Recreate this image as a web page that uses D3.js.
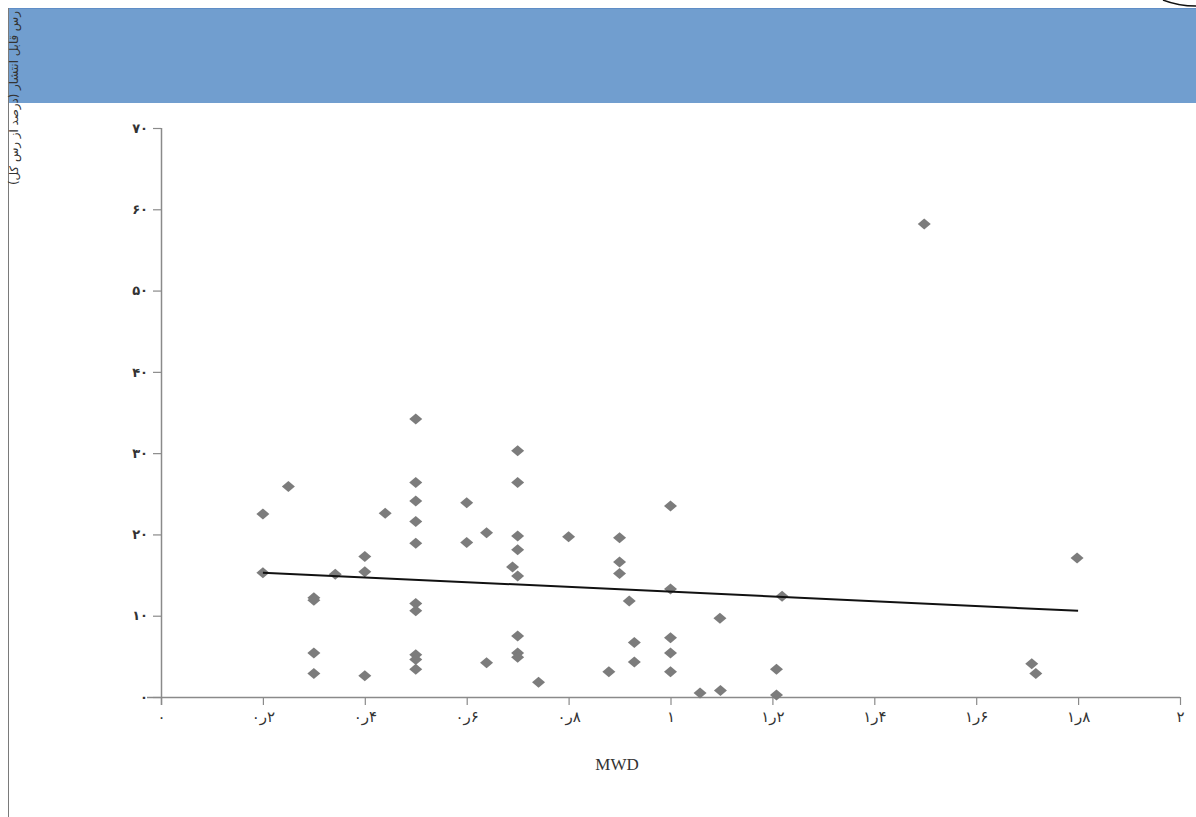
<!DOCTYPE html>
<html>
<head>
<meta charset="utf-8">
<script src="https://cdn.jsdelivr.net/npm/d3@7/dist/d3.min.js"></script>
<style>
  html, body { margin: 0; padding: 0; background: #fff; }
  svg { display: block; }
</style>
</head>
<body>
<script>
// MWD (mean weight diameter) per sample
const mwd = [
  0.2, 0.2, 0.25, 0.3, 0.3, 0.3, 0.3, 0.342, 0.4, 0.4, 0.4, 0.44,
  0.5, 0.5, 0.5, 0.5, 0.5, 0.5, 0.5, 0.5, 0.5, 0.5,
  0.6, 0.6, 0.639, 0.639, 0.69,
  0.7, 0.7, 0.7, 0.7, 0.7, 0.7, 0.7, 0.7,
  0.741, 0.8, 0.879, 0.9, 0.9, 0.9, 0.919, 0.929, 0.929,
  1.0, 1.0, 1.0, 1.0, 1.0, 1.058, 1.097, 1.098,
  1.208, 1.208, 1.219, 1.498, 1.709, 1.717, 1.798
];
// dispersible clay (% of total clay) per sample
const dispersible = [
  22.5, 15.3, 25.9, 12.2, 11.9, 5.4, 2.9, 15.1, 17.3, 15.4, 2.6, 22.6,
  34.2, 26.4, 24.1, 21.6, 18.9, 11.5, 10.6, 5.2, 4.6, 3.4,
  23.9, 19.0, 20.2, 4.2, 16.0,
  30.3, 26.4, 19.8, 18.1, 14.9, 7.5, 5.4, 4.9,
  1.8, 19.7, 3.1, 19.6, 16.6, 15.2, 11.8, 6.7, 4.3,
  23.5, 13.3, 7.3, 5.4, 3.1, 0.5, 9.7, 0.8,
  3.4, 0.25, 12.4, 58.2, 4.1, 2.9, 17.1
];
// linear trend line end points
const trendX = [0.2, 1.8];
const trendY = [15.3, 10.6];

// axis ticks and their Persian labels
const xTicks = [0, 0.2, 0.4, 0.6, 0.8, 1, 1.2, 1.4, 1.6, 1.8, 2];
const xTickLabels = ["۰", "۰ر۲", "۰ر۴", "۰ر۶", "۰ر۸", "۱", "۱ر۲", "۱ر۴", "۱ر۶", "۱ر۸", "۲"];
const yTicks = [0, 10, 20, 30, 40, 50, 60, 70];
const yTickLabels = ["۰", "۱۰", "۲۰", "۳۰", "۴۰", "۵۰", "۶۰", "۷۰"];

const xTitle = "MWD";
const yTitle = "رس قابل انتشار (درصد از رس کل)";

const W = 1196, H = 817;
const svg = d3.select("body").append("svg").attr("width", W).attr("height", H);

// header band and frame
svg.append("rect").attr("x", 8).attr("y", 8).attr("width", W - 8).attr("height", 95)
  .attr("fill", "#719ecf");
svg.append("line").attr("x1", 8).attr("x2", W).attr("y1", 8.5).attr("y2", 8.5)
  .attr("stroke", "#5f8dc6").attr("stroke-width", 1);
svg.append("line").attr("x1", 8.5).attr("x2", 8.5).attr("y1", 8).attr("y2", H)
  .attr("stroke", "#7a7a7a").attr("stroke-width", 1);
svg.append("path").attr("d", "M1163,0 Q1178,6 1196,6")
  .attr("fill", "none").attr("stroke", "#111").attr("stroke-width", 1.5);

const x = d3.scaleLinear().domain([0, 2]).range([161, 1180]);
const y = d3.scaleLinear().domain([0, 70]).range([697, 128]);

const axisColor = "#8a8a8a";

// x axis
const gx = svg.append("g").attr("transform", `translate(0,${y(0)})`)
  .call(d3.axisBottom(x).tickValues(xTicks).tickSize(8).tickSizeOuter(0)
    .tickFormat((d, i) => xTickLabels[i]));
gx.select(".domain").attr("stroke", axisColor).attr("stroke-width", 1.5)
  .attr("d", `M147,0.5H${x(2)}`);
gx.selectAll(".tick line").attr("stroke", axisColor).attr("stroke-width", 1.2);
gx.selectAll(".tick text")
  .attr("y", 14)
  .style("font-family", "DejaVu Sans, sans-serif").style("font-size", "15px")
  .style("fill", "#333").style("direction", "ltr").style("unicode-bidi", "bidi-override");

// y axis
const gy = svg.append("g").attr("transform", `translate(${x(0)},0)`)
  .call(d3.axisLeft(y).tickValues(yTicks).tickSize(8).tickSizeOuter(0)
    .tickFormat((d, i) => yTickLabels[i]));
gy.select(".domain").attr("stroke", axisColor).attr("stroke-width", 1.5)
  .attr("d", `M0.5,${y(70)}V${y(0) + 8}`);
gy.selectAll(".tick line").attr("stroke", axisColor).attr("stroke-width", 1.2);
gy.selectAll(".tick text")
  .attr("x", -13)
  .style("font-family", "DejaVu Sans, sans-serif").style("font-size", "13px")
  .style("font-weight", "bold").style("fill", "#333");

// data points (diamonds)
const pts = mwd.map((v, i) => [v, dispersible[i]]);
const diamond = "M0,-5.5L6.5,0L0,5.5L-6.5,0Z";
svg.append("g").selectAll("path").data(pts).join("path")
  .attr("d", diamond)
  .attr("transform", d => `translate(${x(d[0])},${y(d[1])})`)
  .attr("fill", "#7c7c7c");

// trend line
svg.append("path")
  .datum(trendX.map((v, i) => [v, trendY[i]]))
  .attr("d", d3.line().x(d => x(d[0])).y(d => y(d[1])))
  .attr("fill", "none").attr("stroke", "#111").attr("stroke-width", 2);

// axis titles
svg.append("text").attr("x", 617).attr("y", 770).attr("text-anchor", "middle")
  .style("font-family", "Liberation Serif, serif").style("font-size", "17px")
  .style("fill", "#333").text(xTitle);

svg.append("text")
  .attr("transform", "translate(18,185) rotate(-90)")
  .attr("text-anchor", "end")
  .style("direction", "rtl")
  .style("font-family", "DejaVu Sans, sans-serif").style("font-size", "11.8px")
  .style("fill", "#333").text(yTitle);
</script>
</body>
</html>
